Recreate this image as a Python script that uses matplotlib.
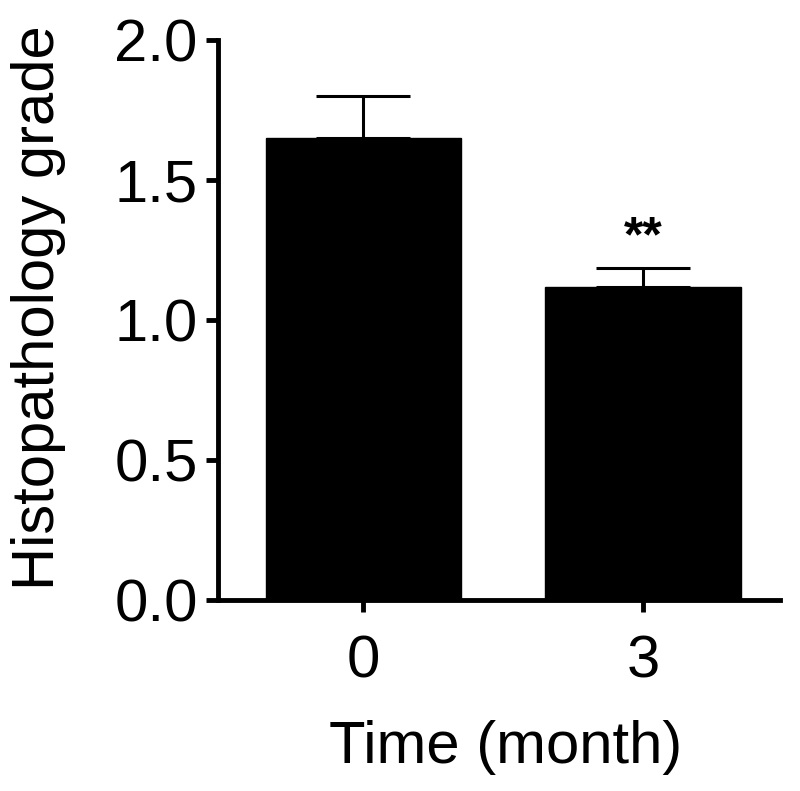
import matplotlib
matplotlib.use("Agg")
import matplotlib.pyplot as plt

categories = ["0", "3"]
means = [1.65, 1.12]
sem = [0.15, 0.065]
yticks = [0.0, 0.5, 1.0, 1.5, 2.0]
ytick_labels = ["0.0", "0.5", "1.0", "1.5", "2.0"]
annotation = "**"

plt.rcParams['font.family'] = ['Liberation Sans', 'DejaVu Sans']

fig = plt.figure(figsize=(8, 7.91), dpi=100)
ax = fig.add_axes([0.2725, 0.2415, 0.7025, 0.7075])

x = list(range(len(categories)))
ax.bar(x, means, width=0.7, color='black', edgecolor='black', zorder=2)
ax.errorbar(x, means, yerr=[[0, 0], sem], fmt='none', ecolor='black',
            elinewidth=2.2, capsize=34, capthick=2.2, zorder=1)

ax.text(x[1], 1.245, annotation, ha='center', va='baseline',
        fontsize=36, fontweight='bold')

ax.set_xlim(-0.52, 1.49)
ax.set_ylim(0, 2.0)
ax.set_xticks(x)
ax.set_xticklabels(categories)
ax.set_yticks(yticks)
ax.set_yticklabels(ytick_labels)

for s in ['top', 'right']:
    ax.spines[s].set_visible(False)
for s in ['left', 'bottom']:
    ax.spines[s].set_linewidth(3.5)
ax.spines['left'].set_bounds(0, 2.0)

ax.tick_params(axis='both', width=3.5, length=8.5, labelsize=43)
ax.tick_params(axis='x', pad=16)
ax.tick_params(axis='y', pad=6)
ax.set_xlabel("Time (month)", fontsize=43)
ax.set_ylabel("Histopathology grade", fontsize=43)
ax.xaxis.set_label_coords(0.512, -0.215)
ax.yaxis.set_label_coords(-0.27, 0.523)

fig.savefig("out.png", dpi=100)
